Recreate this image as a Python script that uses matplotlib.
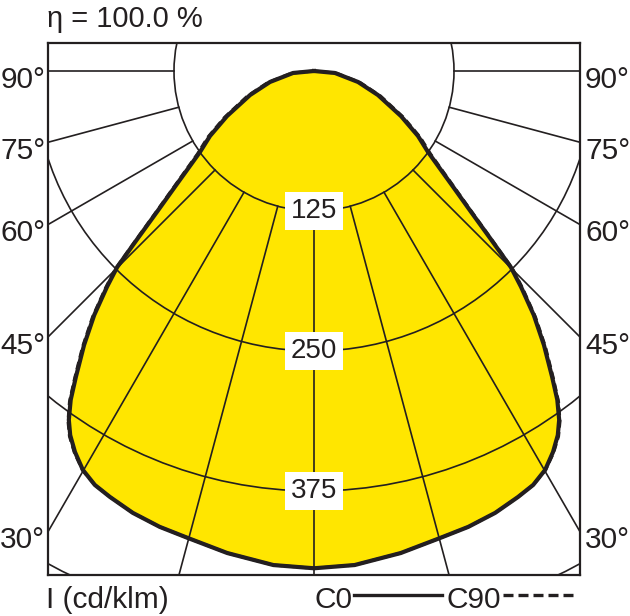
import numpy as np
import matplotlib.pyplot as plt
from matplotlib.patches import Circle
from matplotlib.lines import Line2D

plt.rcParams['font.family'] = ['Liberation Sans Narrow', 'Liberation Sans', 'DejaVu Sans']

# intensity curve, cd/klm against gamma (deg from nadir)
gamma = [0, 4.7, 10.2, 15.1, 18.7, 22.3, 25.6, 27.9, 30.1, 32.1, 33.8, 35.1,
         36.5, 37.9, 40.0, 42.0, 43.8, 45.1, 46.5, 48.1, 50.5, 54.6, 58.0,
         62.6, 69.4, 76.0, 84.6, 90]
c0 = [444, 442.6, 437.3, 431.9, 429.7, 426.4, 421.7, 418.2, 411.6, 401.6,
      391.3, 380.7, 365.2, 346.1, 319.4, 293.3, 267.1, 248.1, 216.6, 188.4,
      158.6, 124.9, 109.5, 87.5, 61.0, 40.5, 18.8, 0]
c90 = [444, 442.6, 437.3, 431.9, 429.7, 426.4, 421.7, 418.2, 412.0, 402.5,
       392.5, 382.0, 367.0, 348.0, 321.5, 295.5, 269.5, 250.5, 219.0, 191.0,
       161.0, 127.5, 112.0, 90.0, 63.5, 42.5, 20.0, 0]

rings = [125, 250, 375, 500]
ring_labels = ['125', '250', '375']
spokes = [0, 15, 30, 45, 60, 75, 90]
side_labels = ['30°', '45°', '60°', '75°', '90°']
side_angles = [30, 45, 60, 75, 90]

eta = 'η = 100.0 %'
unit = 'I (cd/klm)'

INK = '#231f20'
YEL = '#ffe600'

W, H = 630, 616
fig = plt.figure(figsize=(W / 100, H / 100), dpi=100)
ax = fig.add_axes([48 / W, 1 - 575 / H, 532 / W, 532 / H])
ax.set_xlim(-237.5, 237.5)
ax.set_ylim(-450, 25)
ax.set_aspect('equal')
ax.set_xticks([])
ax.set_yticks([])
for s in ax.spines.values():
    s.set_linewidth(1.6)
    s.set_color(INK)


def closed(vals):
    g = np.radians(np.array(gamma))
    v = np.array(vals, dtype=float)
    x, y = v * np.sin(g), -v * np.cos(g)
    return np.concatenate([-x[::-1], x]), np.concatenate([y[::-1], y])


# yellow body
bx, by = closed(c0)
ax.fill(bx, by, color=YEL, lw=0, zorder=1)

# grid
for r in rings:
    ax.add_patch(Circle((0, 0), r, fill=False, ec=INK, lw=1.2, zorder=2))
for a in spokes:
    t = np.radians(a)
    for sg in ([1] if a == 0 else [-1, 1]):
        ax.plot([sg * 125 * np.sin(t), sg * 900 * np.sin(t)],
                [-125 * np.cos(t), -900 * np.cos(t)],
                color=INK, lw=1.2, zorder=2)

# curves
dx9, dy9 = closed(c90)
ax.plot(dx9, dy9, color=INK, lw=2.2, ls=(0, (2.5, 1.5)), zorder=3)
ax.plot(bx, by, color=INK, lw=3.0, zorder=3, solid_joinstyle='round')

for r, lab in zip(rings, ring_labels):
    ax.text(0, -r, lab, ha='center', va='center', fontsize=20, color=INK, zorder=5,
            bbox=dict(boxstyle='square,pad=0.22', fc='white', ec='none'))

# angle labels at the frame
for a, lab in zip(side_angles, side_labels):
    yh = -237.5 / np.tan(np.radians(a)) if a < 90 else 0
    yb = yh - 16.5 / 1.12
    ax.text(-240, yb, lab, ha='right', va='baseline', fontsize=21.5, color=INK, clip_on=False)
    ax.text(242, yb, lab, ha='left', va='baseline', fontsize=21.5, color=INK, clip_on=False)


def px(x, y):
    return x / W, 1 - y / H


fig.text(*px(47, 27), eta, ha='left', va='baseline', fontsize=21, color=INK)
fig.text(*px(46, 608), unit, ha='left', va='baseline', fontsize=21.5, color=INK)
fig.text(*px(314, 608), 'C0', ha='left', va='baseline', fontsize=21.5, color=INK)
fig.text(*px(446, 608), 'C90', ha='left', va='baseline', fontsize=21.5, color=INK)
fig.add_artist(Line2D([354 / W, 442 / W], [1 - 595 / H] * 2, color=INK, lw=2.4,
                      transform=fig.transFigure))
fig.add_artist(Line2D([503 / W, 577 / W], [1 - 595 / H] * 2, color=INK, lw=2.4,
                      ls=(0, (3, 1.5)), transform=fig.transFigure))

fig.savefig('out.png', dpi=100)
